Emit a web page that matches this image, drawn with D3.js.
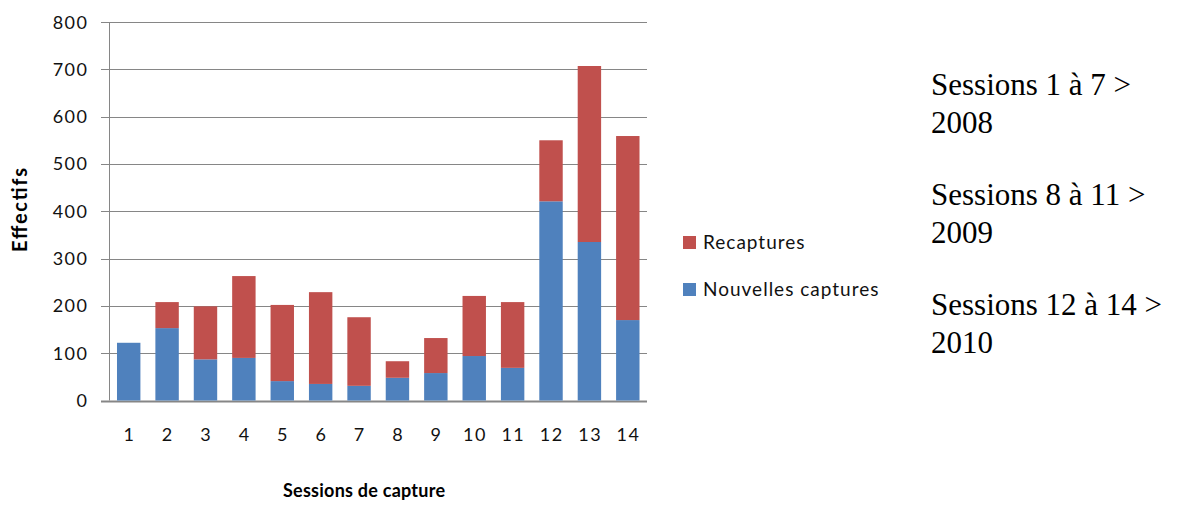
<!DOCTYPE html>
<html>
<head>
<meta charset="utf-8">
<script src="https://cdn.jsdelivr.net/npm/d3@7"></script>
<style>
  body { margin: 0; background: #fff; }
  svg { display: block; }
</style>
</head>
<body>
<svg id="chart" width="1178" height="505"></svg>
<script>
// sessions de capture 1..14
const sessions = ['1', '2', '3', '4', '5', '6', '7', '8', '9', '10', '11', '12', '13', '14']
const nouvelles = [122, 153, 87, 90, 41, 35, 31, 48, 58, 94, 69, 421, 335, 170]
const recaptures = [0, 55, 112, 173, 161, 194, 145, 35, 74, 127, 139, 129, 372, 389]
const yTicks = [0, 100, 200, 300, 400, 500, 600, 700, 800]
const seriesNames = ['Recaptures', 'Nouvelles captures']
const notes = [
    ['Sessions 1 à 7 >', '2008'],
    ['Sessions 8 à 11 >', '2009'],
    ['Sessions 12 à 14 >', '2010']
]

const blue = '#4F81BD', red = '#C0504D', grid = '#868686'
const svg = d3.select('#chart')
const font = 'Lato, "Open Sans", sans-serif'

const x = d3.scaleBand()
    .domain(sessions)
    .range([109.5, 647])
    .paddingInner(0.39)
    .paddingOuter(0.195)

const y = d3.scaleLinear()
    .domain([0, 800])
    .range([400.5, 22])

// quadrillage + petites graduations à gauche
svg.append('g')
    .selectAll('line')
    .data(yTicks)
    .join('line')
    .attr('x1', 101)
    .attr('x2', 647)
    .attr('y1', d => Math.round(y(d)) + 0.5)
    .attr('y2', d => Math.round(y(d)) + 0.5)
    .attr('stroke', grid)
    .attr('stroke-width', d => d == 0 ? 2 : 1)

// axe vertical
svg.append('line')
    .attr('x1', 109.5).attr('x2', 109.5)
    .attr('y1', y(800)).attr('y2', y(0))
    .attr('stroke', grid)

// barres empilées
const rows = sessions.map((s, i) => ({ session: s, nouvelles: nouvelles[i], recaptures: recaptures[i] }))
const stack = d3.stack().keys(['nouvelles', 'recaptures'])(rows)
const colors = { nouvelles: blue, recaptures: red }

svg.append('g')
    .selectAll('g')
    .data(stack)
    .join('g')
    .attr('fill', d => colors[d.key])
    .selectAll('rect')
    .data(d => d)
    .join('rect')
    .attr('x', d => x(d.data.session))
    .attr('width', x.bandwidth())
    .attr('y', d => y(d[1]))
    .attr('height', d => y(d[0]) - y(d[1]))

// étiquettes axe Y
svg.append('g')
    .selectAll('text')
    .data(yTicks)
    .join('text')
    .attr('x', 88.5)
    .attr('y', d => y(d) + 6.5)
    .attr('text-anchor', 'end')
    .style('font-family', font)
    .style('font-size', '18px')
    .style('letter-spacing', '1.5px')
    .attr('fill', '#111')
    .text(d => d)

// étiquettes axe X
svg.append('g')
    .selectAll('text')
    .data(sessions)
    .join('text')
    .attr('x', d => x(d) + x.bandwidth() / 2 + 0.75)
    .attr('y', 441)
    .attr('text-anchor', 'middle')
    .style('font-family', font)
    .style('font-size', '18px')
    .style('letter-spacing', '1.5px')
    .attr('fill', '#111')
    .text(d => d)

// titres des axes
svg.append('text')
    .attr('x', 364)
    .attr('y', 497)
    .attr('text-anchor', 'middle')
    .style('font-family', font)
    .style('font-size', '18px')
    .style('font-weight', 'bold')
    .attr('textLength', 162)
    .text('Sessions de capture')

svg.append('text')
    .attr('transform', 'translate(27,210) rotate(-90)')
    .attr('text-anchor', 'middle')
    .style('font-family', font)
    .style('font-size', '20px')
    .style('font-weight', 'bold')
    .attr('textLength', 84)
    .text('Effectifs')

// légende
const legend = svg.append('g')
    .selectAll('g')
    .data(seriesNames)
    .join('g')
    .attr('transform', (d, i) => 'translate(683,' + (236 + i * 47) + ')')

legend.append('rect')
    .attr('width', 13)
    .attr('height', 13)
    .attr('fill', (d, i) => i == 0 ? red : blue)

legend.append('text')
    .attr('x', 20)
    .attr('y', 13)
    .style('font-family', font)
    .style('font-size', '19px')
    .style('letter-spacing', '1px')
    .attr('fill', '#111')
    .text(d => d)

// notes à droite
const noteG = svg.append('g')
    .selectAll('text')
    .data(notes)
    .join('text')
    .attr('x', 931)
    .attr('y', (d, i) => 95 + i * 110)
    .style('font-family', '"Liberation Serif", "Times New Roman", serif')
    .style('font-size', '31px')
    .attr('fill', '#000')

noteG.selectAll('tspan')
    .data(d => d)
    .join('tspan')
    .attr('x', 931)
    .attr('dy', (d, i) => i == 0 ? 0 : 37.5)
    .text(d => d)
</script>
</body>
</html>
